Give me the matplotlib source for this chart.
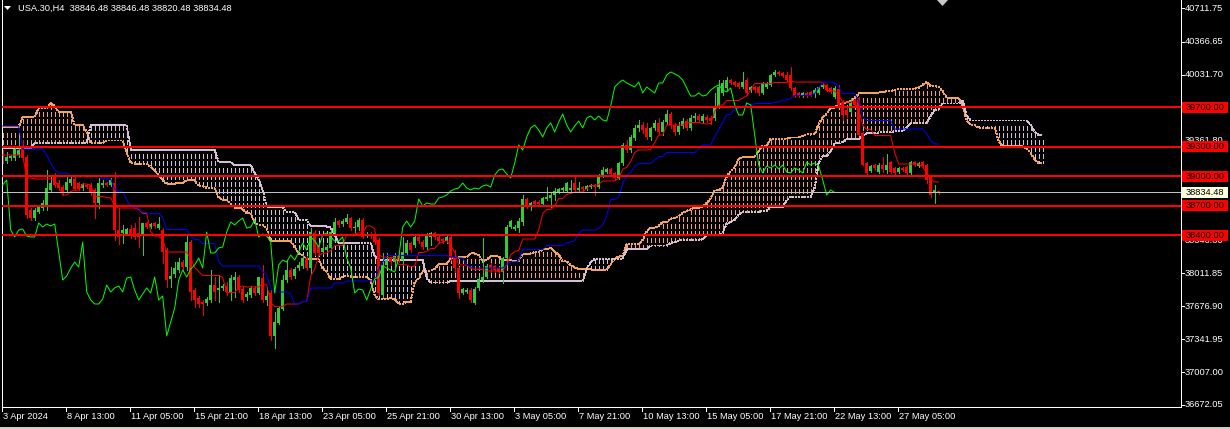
import numpy as np
import matplotlib
matplotlib.use("Agg")
import matplotlib.pyplot as plt
from matplotlib.patches import Rectangle, Polygon
from matplotlib.collections import LineCollection
import matplotlib.transforms as mtransforms

# ---------------- data ----------------
symbol_title = "USA.30,H4  38846.48 38846.48 38820.48 38834.48"

opens = [39236, 39155, 39185, 39185, 39216, 39287, 39196, 38656, 38575, 38636,
         38677, 38707, 38860, 39002, 38931, 38890, 38860, 38931, 38972, 38931,
         38880, 38911, 38911, 38860, 38728, 38911, 38931, 38911, 38931, 38453,
         38422, 38412, 38463, 38473, 38422, 38402, 38524, 38483, 38524, 38473,
         38453, 38249, 37954, 38005, 38046, 38127, 38076, 38331, 37842, 37761,
         37720, 37710, 37740, 37893, 37842, 37863, 37883, 37822, 37944, 37974,
         37852, 37771, 37791, 37863, 37812, 37964, 37740, 37812, 37374, 37506,
         37649, 37944, 38046, 37985, 38066, 38086, 38168, 38066, 38422, 38290,
         38229, 38249, 38270, 38422, 38544, 38514, 38534, 38575, 38473, 38483,
         38555, 38402, 38412, 38402, 38351, 37791, 38097, 38168, 38127, 38198,
         38147, 38219, 38320, 38300, 38382, 38331, 38280, 38382, 38422, 38382,
         38361, 38341, 38382, 38168, 38066, 37812, 37822, 37842, 37710, 37863,
         37944, 37974, 38097, 38086, 38066, 38025, 38168, 38483, 38463, 38473,
         38534, 38768, 38697, 38748, 38738, 38717, 38768, 38778, 38809, 38839,
         38860, 38850, 38860, 38931, 38860, 38890, 38870, 38890, 38911, 38890,
         39002, 39043, 39074, 39033, 38982, 39135, 39318, 39267, 39389, 39491,
         39521, 39491, 39399, 39491, 39542, 39450, 39552, 39633, 39521, 39450,
         39511, 39562, 39491, 39592, 39613, 39562, 39603, 39592, 39592, 39704,
         39847, 39898, 39979, 39959, 39949, 39908, 39979, 39877, 39908, 39908,
         39847, 39908, 39928, 40030, 40061, 40050, 40030, 40030, 39898, 39847,
         39816, 39847, 39857, 39837, 39847, 39908, 39928, 39898, 39806, 39888,
         39755, 39674, 39654, 39776, 39796, 39440, 39135, 39053, 39114, 39043,
         39114, 39063, 39145, 39084, 39043, 39084, 39094, 39033, 39145, 39104,
         39145, 39114, 38992, 38829, 38846.48]

highs = [39267, 39246, 39216, 39297, 39389, 39369, 39216, 38677, 38677, 38707,
         38758, 39063, 38992, 39033, 38962, 38911, 39012, 39012, 38992, 38941,
         38931, 38921, 38931, 38880, 38982, 38962, 38941, 38982, 39043, 38677,
         38504, 38473, 38504, 38524, 38585, 38524, 38534, 38524, 38534, 38585,
         38473, 38270, 38076, 38127, 38168, 38147, 38392, 38351, 37863, 37781,
         37740, 37771, 38046, 37974, 37995, 37903, 37924, 37995, 38025, 37995,
         37873, 37822, 37883, 37883, 37974, 38097, 37873, 37842, 37618, 37669,
         37995, 38147, 38066, 38076, 38127, 38198, 38188, 38473, 38453, 38320,
         38320, 38300, 38453, 38575, 38555, 38565, 38616, 38585, 38534, 38575,
         38575, 38432, 38432, 38422, 38371, 38219, 38219, 38178, 38219, 38219,
         38382, 38351, 38331, 38402, 38402, 38351, 38422, 38432, 38432, 38402,
         38371, 38402, 38402, 38249, 38076, 37863, 37863, 37863, 37873, 37974,
         38371, 38107, 38117, 38097, 38076, 38178, 38504, 38555, 38504, 38575,
         38809, 38778, 38738, 38758, 38758, 38789, 38890, 38839, 38880, 38880,
         38890, 38941, 38962, 38992, 38941, 38901, 38911, 38921, 38921, 39023,
         39094, 39084, 39084, 39043, 39145, 39338, 39369, 39419, 39521, 39572,
         39552, 39542, 39501, 39572, 39592, 39572, 39674, 39654, 39542, 39552,
         39592, 39582, 39623, 39643, 39633, 39633, 39623, 39613, 39847, 39979,
         39979, 40010, 39989, 39969, 39959, 40061, 40000, 39918, 39918, 39918,
         39959, 39959, 40040, 40081, 40071, 40061, 40061, 40111, 39908, 39857,
         39857, 39857, 39867, 39898, 39918, 39938, 39938, 39908, 39918, 39928,
         39776, 39694, 39796, 39786, 39806, 39450, 39145, 39114, 39124, 39135,
         39196, 39226, 39155, 39094, 39094, 39094, 39104, 39155, 39155, 39145,
         39155, 39124, 39002, 38911, 38846.48]

lows = [39135, 39135, 39165, 39165, 39196, 39165, 38575, 38555, 38555, 38626,
        38656, 38656, 38839, 38890, 38860, 38809, 38839, 38911, 38860, 38860,
        38860, 38880, 38809, 38575, 38677, 38890, 38901, 38901, 38351, 38310,
        38320, 38402, 38371, 38361, 38280, 38198, 38473, 38473, 38473, 38463,
        38117, 37873, 37873, 37974, 38025, 38046, 38046, 37740, 37669, 37669,
        37588, 37690, 37720, 37740, 37720, 37842, 37791, 37740, 37771, 37822,
        37720, 37740, 37771, 37791, 37801, 37720, 37690, 37333, 37252, 37496,
        37639, 37924, 37954, 37964, 38046, 38066, 38046, 38015, 38198, 38198,
        38209, 38229, 38229, 38402, 38483, 38493, 38524, 38453, 38432, 38453,
        38371, 38382, 38371, 38310, 37791, 37771, 38076, 38097, 38046, 38127,
        38097, 38198, 38229, 38280, 38320, 38259, 38259, 38300, 38361, 38320,
        38320, 38320, 38147, 38025, 37761, 37801, 37812, 37720, 37700, 37842,
        37924, 37964, 38025, 38025, 38015, 37913, 38097, 38473, 38453, 38432,
        38504, 38677, 38656, 38697, 38697, 38707, 38758, 38687, 38758, 38829,
        38839, 38839, 38839, 38839, 38839, 38839, 38860, 38880, 38809, 38880,
        38992, 39033, 39012, 38962, 38972, 39114, 39246, 39246, 39369, 39460,
        39440, 39379, 39369, 39470, 39430, 39419, 39531, 39491, 39419, 39430,
        39491, 39470, 39470, 39552, 39552, 39542, 39552, 39531, 39572, 39694,
        39827, 39877, 39938, 39918, 39898, 39898, 39827, 39857, 39857, 39827,
        39837, 39898, 39918, 40020, 40030, 40010, 39969, 39877, 39806, 39806,
        39806, 39806, 39816, 39806, 39837, 39898, 39867, 39847, 39796, 39704,
        39572, 39603, 39643, 39715, 39419, 39114, 39023, 39043, 39063, 39033,
        39043, 39033, 39033, 39023, 39033, 39053, 39023, 39023, 39104, 39094,
        39094, 38931, 38789, 38728, 38820.48]

closes = [39165, 39196, 39206, 39277, 39267, 39185, 38605, 38575, 38656, 38687,
          38728, 38880, 38931, 38911, 38880, 38829, 38941, 38972, 38870, 38870,
          38921, 38890, 38839, 38728, 38931, 38931, 38911, 38962, 38453, 38382,
          38453, 38463, 38391, 38382, 38382, 38524, 38483, 38514, 38493, 38514,
          38229, 37944, 37985, 38066, 38127, 38076, 38331, 37822, 37740, 37700,
          37700, 37751, 37893, 37822, 37863, 37883, 37822, 37964, 37974, 37842,
          37740, 37801, 37863, 37812, 37974, 37740, 37781, 37374, 37517, 37659,
          37944, 38046, 37974, 38056, 38097, 38168, 38066, 38432, 38219, 38219,
          38270, 38280, 38432, 38534, 38504, 38544, 38575, 38473, 38483, 38555,
          38382, 38412, 38392, 38331, 37812, 38097, 38147, 38127, 38198, 38147,
          38229, 38320, 38249, 38382, 38341, 38280, 38402, 38422, 38382, 38341,
          38341, 38382, 38168, 38066, 37812, 37852, 37842, 37740, 37852, 37954,
          37974, 38086, 38066, 38046, 38025, 38168, 38483, 38544, 38483, 38544,
          38768, 38697, 38728, 38717, 38717, 38778, 38789, 38809, 38850, 38870,
          38880, 38931, 38880, 38860, 38880, 38870, 38901, 38911, 38890, 39012,
          39063, 39074, 39023, 38982, 39135, 39318, 39267, 39399, 39491, 39521,
          39470, 39399, 39491, 39542, 39450, 39552, 39633, 39521, 39450, 39511,
          39562, 39491, 39592, 39613, 39572, 39613, 39572, 39562, 39715, 39908,
          39949, 39979, 39949, 39928, 39908, 39959, 39847, 39908, 39877, 39847,
          39949, 39949, 40030, 40061, 40040, 40020, 39979, 39898, 39816, 39816,
          39847, 39816, 39827, 39877, 39908, 39928, 39877, 39857, 39898, 39725,
          39623, 39623, 39745, 39725, 39419, 39114, 39033, 39104, 39084, 39114,
          39074, 39114, 39043, 39033, 39084, 39063, 39033, 39145, 39114, 39135,
          39104, 38962, 38809, 38860, 38834.48]

# Ichimoku values on the left edge (their history lies off-screen)
tenkan_head = [39216, 39216, 39216, 39216, 39216, 39216, 38982, 38982]
kijun_head = [39511, 39511, 39511, 39511, 39511, 39277, 39277, 39277, 39277, 39277,
              39277, 39216, 39135, 39063, 39033, 39033, 39033, 39002, 39002, 39002,
              39002, 39002, 39002, 39002, 39002]
spanA_head = [39501, 39501, 39501, 39501, 39501, 39603, 39603, 39603, 39603, 39694,
              39694, 39694, 39745, 39715, 39654, 39654, 39654, 39654, 39521, 39521,
              39521, 39450, 39338, 39338, 39338, 39338]
spanB_head = [39287, 39287, 39287, 39287, 39287, 39287, 39287, 39287,
              39338, 39338, 39338, 39338, 39338, 39338, 39338, 39338, 39338, 39338,
              39338, 39338, 39338, 39338,
              39521, 39521, 39521, 39521, 39521, 39521, 39521, 39521, 39521, 39521,
              39267, 39267, 39267, 39267, 39267, 39267, 39267, 39267, 39267, 39267,
              39267, 39267, 39267, 39267, 39267, 39267, 39267, 39267, 39267, 39267,
              39267, 39267,
              39145, 39145, 39145, 39145, 39114, 39114, 39114, 39114, 39114,
              39033, 38962, 38860, 38687, 38687, 38687, 38687, 38687,
              38636, 38636, 38636, 38555, 38555, 38555]

levels = [39700.00, 39300.00, 39000.00, 38700.00, 38400.00]
last_price = 38834.48
ytick_values = [40711.75, 40366.65, 40031.70, 39361.80,
                38346.80, 38011.85, 37676.90, 37341.95, 37007.00, 36672.05]
xtick_labels = ["3 Apr 2024", "8 Apr 13:00", "11 Apr 05:00", "15 Apr 21:00", "18 Apr 13:00",
                "23 Apr 05:00", "25 Apr 21:00", "30 Apr 13:00", "3 May 05:00", "7 May 21:00",
                "10 May 13:00", "15 May 05:00", "17 May 21:00", "22 May 13:00", "27 May 05:00"]
xtick_step = 16
tenkan_p, kijun_p, senkou_p = 9, 26, 52

# ---------------- computation ----------------
o = np.array(opens, float); h = np.array(highs, float)
l = np.array(lows, float); c = np.array(closes, float)
n = len(c)
tenkan = np.empty(n); kijun = np.empty(n)
for i in range(n):
    tenkan[i] = tenkan_head[i] if i < tenkan_p - 1 else (h[i-tenkan_p+1:i+1].max() + l[i-tenkan_p+1:i+1].min()) / 2
    kijun[i] = kijun_head[i] if i < kijun_p - 1 else (h[i-kijun_p+1:i+1].max() + l[i-kijun_p+1:i+1].min()) / 2
nd = n + kijun_p
spanA = np.empty(nd); spanB = np.empty(nd)
for j in range(nd):
    k = j - kijun_p
    spanA[j] = spanA_head[j] if k < 0 else (tenkan[k] + kijun[k]) / 2
    if k < senkou_p - 1:
        spanB[j] = spanB_head[j]
    else:
        spanB[j] = (h[k-senkou_p+1:k+1].max() + l[k-senkou_p+1:k+1].min()) / 2
chikou = c[kijun_p:]

# ---------------- figure ----------------
W, H = 1230, 429
PX = 72 / 100.0
YTOP, YBOT = 40793.2, 36651.6
fig = plt.figure(figsize=(W / 100, H / 100), dpi=100, facecolor="black")
ax = fig.add_axes([2 / W, 22 / H, 1179 / W, 407 / H], facecolor="black")
ax.set_xlim(-0.175, 294.575)
ax.set_ylim(YBOT, YTOP)
ppp = (YTOP - YBOT) / 407.0  # price per pixel

SANDY = "#F4A460"; THISTLE = "#D8BFD8"
BULL = "#32CD32"; BEAR = "#FF0000"

# cloud hatch: short vertical dashes on a fixed pixel grid, coloured per bar
dash_on, dash_period = 4 * ppp, 7 * ppp
segs, segcols = [], []
for j in range(nd):
    lo_v, hi_v = min(spanA[j], spanB[j]), max(spanA[j], spanB[j])
    col = SANDY if spanA[j] >= spanB[j] else THISTLE
    t = YTOP - np.ceil((YTOP - hi_v) / dash_period) * dash_period
    while t > lo_v:
        segs.append([(j, t), (j, max(t - dash_on, lo_v))])
        segcols.append(col)
        t -= dash_period
ax.add_collection(LineCollection(segs, colors=segcols, linewidths=PX, antialiaseds=False, zorder=1))

# span boundaries (dotted)
def dotted_line(vals, col):
    ax.plot(np.arange(len(vals)), vals, color=col, lw=PX, dashes=(2 * PX, 2 * PX),
            zorder=1.1, antialiased=False)
dotted_line(spanA, SANDY)
dotted_line(spanB, THISTLE)

# candles
xs = np.arange(n)
up = c >= o
ccol = [BULL if u else BEAR for u in up]
ax.vlines(xs, l, h, colors=ccol, linewidth=PX, antialiased=False, zorder=2)
body_lo = np.minimum(o, c)
body_h = np.maximum(np.abs(c - o), ppp)
ax.bar(xs, body_h, bottom=body_lo, width=0.75, color=ccol, linewidth=0,
       antialiased=False, zorder=2.1)

# ichimoku lines
ax.plot(xs, tenkan, color="#FF0000", lw=PX, zorder=3)
ax.plot(xs, kijun, color="#0000FF", lw=PX, zorder=3)
ax.plot(np.arange(len(chikou)), chikou, color="#00FF00", lw=PX, zorder=3)

# horizontal levels & last price line
ax.axhline(last_price, color="#C0C0C0", lw=PX, zorder=3.5)
for lv in levels:
    ax.axhline(lv, color="#FF0000", lw=2 * PX, zorder=4)

# frame
for side in ("left", "bottom", "right"):
    ax.spines[side].set_color("white")
    ax.spines[side].set_linewidth(PX)
ax.spines["top"].set_visible(False)
ax.set_xticks([]); ax.set_yticks([])

FONT = "Liberation Sans"
FS = 6.7
axw = 1179.0
ytr = mtransforms.blended_transform_factory(ax.transAxes, ax.transData)
xtr = mtransforms.blended_transform_factory(ax.transData, ax.transAxes)

for v in ytick_values:
    ax.plot([1, 1 + 3 / axw], [v, v], transform=ytr, color="white", lw=PX, clip_on=False)
    ax.text(1 + 4 / axw, v, f"{v:.2f}", transform=ytr, color="white", fontsize=FS,
            family=FONT, va="center", ha="left", clip_on=False)

def axis_box(value, face, zo):
    ax.add_patch(Rectangle((1 + 1 / axw, value - 5.5 * ppp), 46 / axw, 11 * ppp, transform=ytr,
                           facecolor=face, edgecolor="none", clip_on=False, zorder=zo))
    ax.text(1 + 24 / axw, value, f"{value:.2f}", transform=ytr, color="black", fontsize=FS,
            family=FONT, va="center", ha="center", clip_on=False, zorder=zo + 0.1)

for lv in levels:
    axis_box(lv, "#FF0000", 10)
axis_box(last_price, "#FFFFE0", 10)

for k, lab in enumerate(xtick_labels):
    xb = k * xtick_step
    ax.plot([xb - 0.175, xb - 0.175], [0, -4 / 407], transform=xtr, color="white", lw=PX, clip_on=False)
    ax.text(xb + 0.05, -9.5 / 407, lab, transform=xtr, color="white", fontsize=FS, family=FONT,
            va="center", ha="left", clip_on=False)

# title and markers
fig.text(18 / W, 1 - 8.5 / H, symbol_title, color="white", fontsize=FS, family=FONT, va="center", ha="left")
fig.add_artist(Polygon([(4 / W, 1 - 6 / H), (11 / W, 1 - 6 / H), (7.5 / W, 1 - 10 / H)],
                       closed=True, transform=fig.transFigure, facecolor="white", edgecolor="none"))
fig.add_artist(Polygon([(937 / W, 1.0), (948 / W, 1.0), (942.5 / W, 1 - 6 / H)],
                       closed=True, transform=fig.transFigure, facecolor="#C8C8C8", edgecolor="none"))
fig.add_artist(Rectangle((0, 0), 1, 2.5 / H, transform=fig.transFigure, facecolor="#D4D0C8",
                         edgecolor="none"))

fig.savefig("out.png", dpi=100, facecolor="black")
